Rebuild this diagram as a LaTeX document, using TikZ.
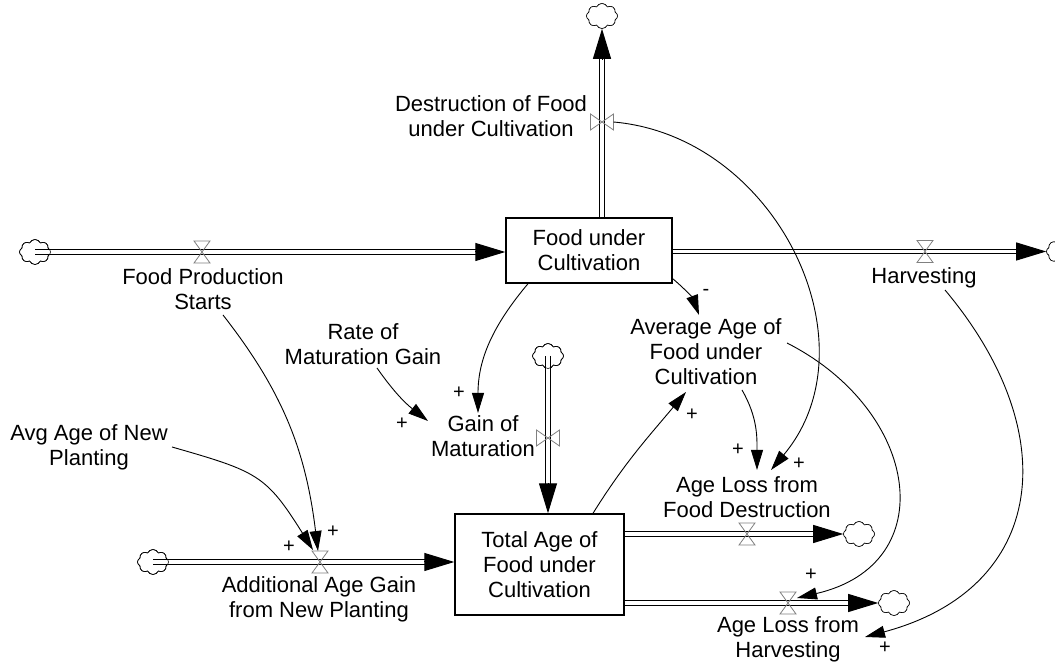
\documentclass[tikz,border=0pt]{standalone}
\usepackage{fontspec}
\setmainfont{Liberation Sans}
\usetikzlibrary{arrows.meta,shapes.symbols,calc}

\tikzset{
  lbl/.style={font=\fontsize{22}{25}\selectfont, align=center, inner sep=1pt},
  polsign/.style={font=\fontsize{20}{22}\selectfont, inner sep=0pt},
  stock/.style={draw, line width=1.4pt, fill=white, font=\fontsize{22}{25}\selectfont, align=center, inner sep=0pt},
  cloudsym/.style={cloud, cloud puffs=8, cloud puff arc=130, aspect=1.25, draw, line width=0.6pt, fill=white, minimum width=31pt, minimum height=25pt, inner sep=0pt},
  pipeline/.style={draw, line width=1.2pt, double=white, double distance=3.4pt},
  flowtip/.style={line width=1pt, -{Triangle[length=30pt,width=18pt]}},
  infolink/.style={line width=0.9pt, -{Triangle[length=20pt,width=12pt]}},
  valvebox/.style={inner sep=0pt, outer sep=0pt},
  valveline/.style={draw=black!50, line width=0.8pt, line join=miter},
}

% double-lined pipe with a solid head at its end
\newcommand\flowpipe[2]{%
  \draw[pipeline, shorten >=26pt] (#1) -- (#2);
  \draw[flowtip] ($(#2)!30pt!(#1)$) -- (#2);
}
% valve on a horizontal pipe (hourglass standing upright)
\newcommand\valveh[2]{%
  \node[valvebox, minimum width=16pt, minimum height=22pt] (#1) at (#2) {};
  \draw[valveline] (#1.north west) -- (#1.north east) -- (#1.south west) -- (#1.south east) -- cycle;
}
% valve on a vertical pipe (bow tie lying sideways)
\newcommand\valvev[2]{%
  \node[valvebox, minimum width=23pt, minimum height=16pt] (#1) at (#2) {};
  \draw[valveline] (#1.north west) -- (#1.south west) -- (#1.north east) -- (#1.south east) -- cycle;
}

\begin{document}
\begin{tikzpicture}[x=1pt,y=1pt]
\useasboundingbox (0,0) rectangle (1055,663);

% stocks
\node[stock, minimum width=166pt, minimum height=65pt] (FUC) at (589,412.5) {Food under\\Cultivation};
\node[stock, minimum width=169pt, minimum height=101pt] (TA) at (539.5,98.5) {Total Age of\\Food under\\Cultivation};

% sources and sinks
\node[cloudsym] (c1) at (35,411) {};
\node[cloudsym] (c2) at (602,647) {};
\node[cloudsym] (c3) at (1062,411.5) {};
\node[cloudsym] (c4) at (548,307) {};
\node[cloudsym] (c5) at (153,101) {};
\node[cloudsym] (c6) at (859,129) {};
\node[cloudsym] (c7) at (894,60) {};

% pipe end points
\coordinate (f1a) at (c1.center);
\coordinate (f1b) at (c1.center -| FUC.west);
\coordinate (f2a) at (c2 |- FUC.north);
\coordinate (f2b) at (c2.south);
\coordinate (f3a) at (c3 -| FUC.east);
\coordinate (f3b) at (c3.west);
\coordinate (f4a) at (c4.center);
\coordinate (f4b) at (c4 |- TA.north);
\coordinate (f5a) at (c5.center);
\coordinate (f5b) at (c5 -| TA.west);
\coordinate (f6a) at (c6 -| TA.east);
\coordinate (f6b) at (c6.west);
\coordinate (f7a) at (c7 -| TA.east);
\coordinate (f7b) at (c7.west);

% flows
\flowpipe{f1a}{f1b}
\flowpipe{f2a}{f2b}
\flowpipe{f3a}{f3b}
\flowpipe{f4a}{f4b}
\flowpipe{f5a}{f5b}
\flowpipe{f6a}{f6b}
\flowpipe{f7a}{f7b}

% cloud outlines drawn over the pipe ends (sources keep the pipe visible inside)
\node[cloudsym, fill=none] at (c1) {};
\node[cloudsym] at (c2) {};
\node[cloudsym] at (c3) {};
\node[cloudsym, fill=none] at (c4) {};
\node[cloudsym, fill=none] at (c5) {};
\node[cloudsym] at (c6) {};
\node[cloudsym] at (c7) {};

% valves
\valveh{v1}{202,411}
\valvev{v2}{602,541}
\valveh{v3}{925,411.5}
\valvev{v4}{548,225}
\valveh{v5}{320,101}
\valveh{v6}{747,129}
\valveh{v7}{788,60}

% variable names
\node[lbl] (lFPS) at (203,373.5) {Food Production\\Starts};
\node[lbl] (lDest) at (491,547) {Destruction of Food\\under Cultivation};
\node[lbl] (lHarv) at (924,385.5) {Harvesting};
\node[lbl] (lRate) at (363,319) {Rate of\\Maturation Gain};
\node[lbl] (lNew) at (89,216) {Avg Age of New\\Planting};
\node[lbl] (lGain) at (483,226.5) {Gain of\\Maturation};
\node[lbl] (lAvg) at (706,311.5) {Average Age of\\Food under\\Cultivation};
\node[lbl] (lALFD) at (747,166) {Age Loss from\\Food Destruction};
\node[lbl] (lALH) at (788,23.5) {Age Loss from\\Harvesting};
\node[lbl] (lAdd) at (319,63.5) {Additional Age Gain\\from New Planting};

% information links
\draw[infolink] ([shift={(20,-25.5)}]lFPS.center) to[out=-52,in=97] ([shift={(-2,11)}]v5.center);
\draw[infolink] ([shift={(83,0)}]lNew.center) to[out=-16,in=122,looseness=1.3] ([shift={(-7,12)}]v5.center);
\draw[infolink] ([shift={(14,-24)}]lRate.center) to[out=-55,in=142] ([shift={(-55,15.5)}]lGain.center);
\draw[infolink] ([xshift=-61]FUC.south) to[out=-130,in=90] ([shift={(-5,23.5)}]lGain.center);
\draw[infolink] ([yshift=5]FUC.south east) to[out=-40,in=110] ([shift={(-7,36.5)}]lAvg.center);
\draw[infolink] ([xshift=53.5]TA.north) to[out=58,in=-130] ([shift={(-20,-40.5)}]lAvg.center);
\draw[infolink] ([shift={(36,-38.5)}]lAvg.center) to[out=-60,in=90] ([shift={(10,27)}]lALFD.center);
\draw[infolink] (v2.east) to[out=-5,in=50,looseness=1.1] ([shift={(24,27)}]lALFD.center);
\draw[infolink] ([shift={(81,8.5)}]lAvg.center) to[out=-27,in=13,looseness=1.5] ([shift={(9,5)}]v7.center);
\draw[infolink] ([shift={(21,-12.5)}]lHarv.center) to[out=-50,in=15,looseness=1.35] ([shift={(77,2.5)}]lALH.center);

% polarities
\node[polsign] (p1) at (333,131) {+};
\node[polsign] (p2) at (289,116) {+};
\node[polsign] (p3) at (402,239) {+};
\node[polsign] (p4) at (459,270) {+};
\node[polsign] (p5) at (706,371) {-};
\node[polsign] (p6) at (692,248) {+};
\node[polsign] (p7) at (738,213) {+};
\node[polsign] (p8) at (799,199) {+};
\node[polsign] (p9) at (811,88) {+};
\node[polsign] (p10) at (885,15) {+};
\end{tikzpicture}
\end{document}
